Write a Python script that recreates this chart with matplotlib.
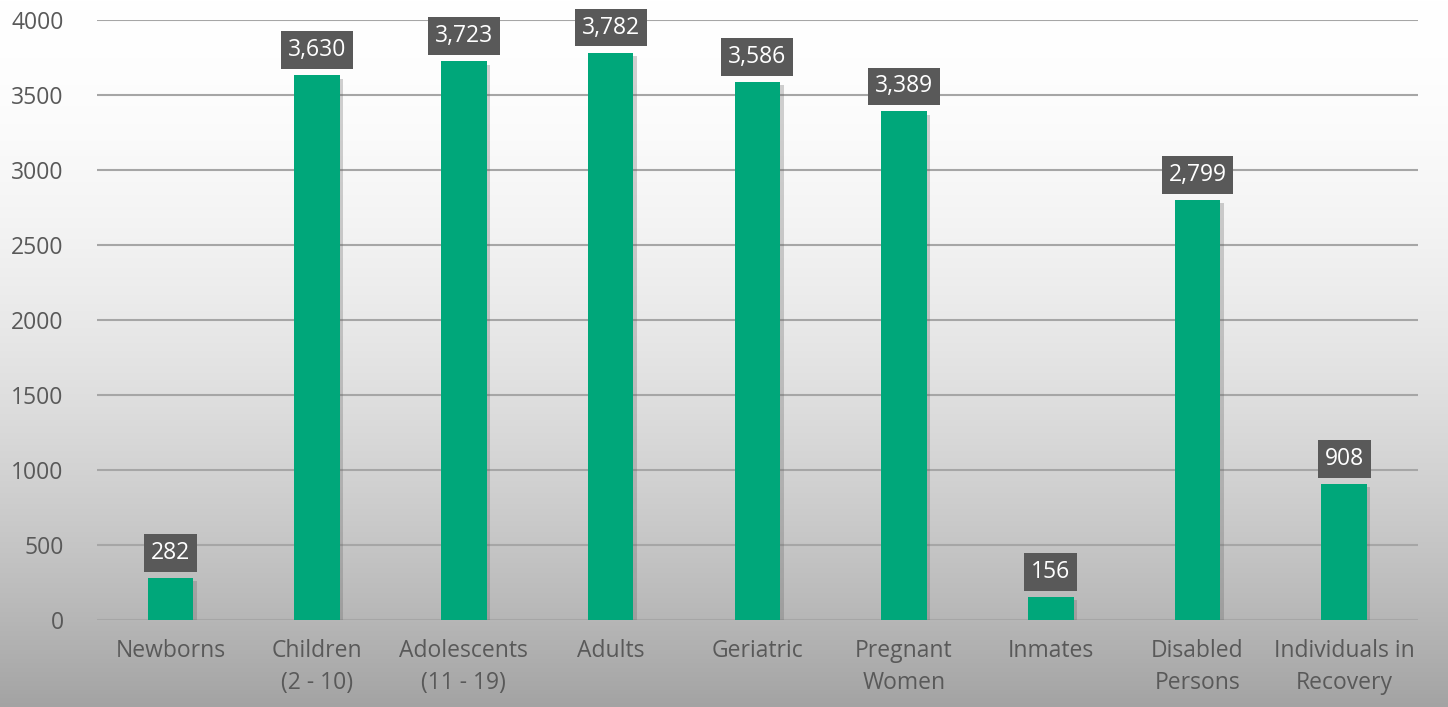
import numpy as np
import matplotlib.pyplot as plt
import matplotlib.patheffects as pe

categories = ['Newborns', 'Children\n(2 - 10)', 'Adolescents\n(11 - 19)', 'Adults', 'Geriatric',
              'Pregnant\nWomen', 'Inmates', 'Disabled\nPersons', 'Individuals in\nRecovery']
values = [282, 3630, 3723, 3782, 3586, 3389, 156, 2799, 908]
yticks = [0, 500, 1000, 1500, 2000, 2500, 3000, 3500, 4000]

plt.rcParams['font.family'] = ['Open Sans', 'DejaVu Sans']

fig = plt.figure(figsize=(14.48, 7.07), dpi=100)

# background gradient, white at top -> grey at bottom
bg = fig.add_axes([0, 0, 1, 1], zorder=-10)
t = np.linspace(0, 1, 400)[:, None]
shade = 1.0 - 0.36 * t ** 1.8
bg.imshow(np.dstack([shade, shade, shade]), aspect='auto', extent=[0, 1, 0, 1],
          vmin=0, vmax=1)
bg.axis('off')

ax = fig.add_axes([0.067, 0.123, 0.912, 0.849])
ax.patch.set_alpha(0)
x = np.arange(len(categories))
bars = ax.bar(x, values, width=0.31, color='#00A77A', zorder=3)
for b in bars:
    b.set_path_effects([pe.SimplePatchShadow(offset=(2.5, -2.5), shadow_rgbFace='#666666', alpha=0.3),
                        pe.Normal()])

for xi, v in zip(x, values):
    ax.annotate(f'{v:,}', (xi, v), xytext=(0, 18), textcoords='offset points',
                ha='center', va='center', color='white', fontsize=16.5, zorder=5,
                bbox=dict(boxstyle='square,pad=0.3', fc='#595959', ec='none'))

ax.set_xlim(-0.5, len(categories) - 0.5)
ax.set_ylim(0, 4000)
ax.set_yticks(yticks)
ax.set_xticks(x)
ax.set_xticklabels(categories, linespacing=1.4)
ax.tick_params(axis='both', length=0, labelsize=16.5, labelcolor='#595959')
ax.tick_params(axis='y', pad=24)
ax.tick_params(axis='x', pad=14)
ax.grid(axis='y', color='#a6a6a6', linewidth=1.5, zorder=0)
for s in ax.spines.values():
    s.set_visible(False)

fig.savefig('out.png', dpi=100)
